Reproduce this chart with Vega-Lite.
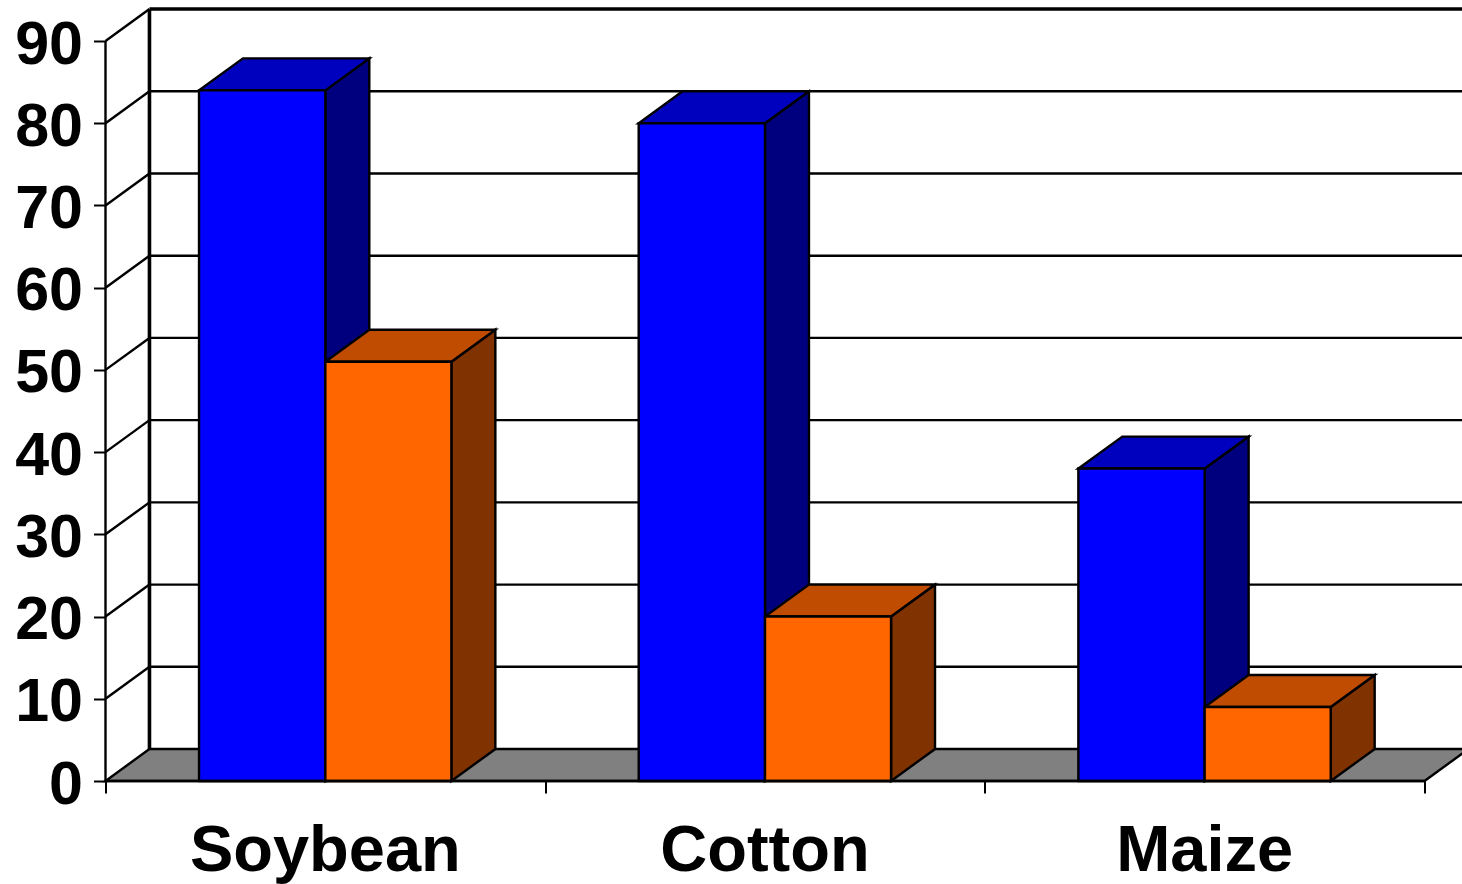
{
"$schema":"https://vega.github.io/schema/vega-lite/v6.json",
"width":1356.5,"height":781,
"autosize":{"type":"none"},
"padding":{"left":105.5,"top":0,"right":0,"bottom":103},
"background":"white",
"config":{"view":{"stroke":null},"font":"Liberation Sans"},
"encoding":{
"x":{"field":"x","type":"quantitative","title":null,"scale":{"domain":[0,3.0853],"nice":false,"zero":false},
"axis":{"values":[0,1,2,3],"labels":false,"domain":false,"grid":false,"tickSize":12,"tickWidth":2,"tickColor":"#000000","title":null}},
"y":{"field":"y","type":"quantitative","title":null,"scale":{"domain":[0,94.99],"nice":false,"zero":false},
"axis":{"values":[0,10,20,30,40,50,60,70,80,90],"domain":false,"grid":false,"tickSize":12,"tickWidth":2,"tickColor":"#000000","labelFont":"Liberation Sans","labelFontWeight":"bold","labelFontSize":61,"labelColor":"#000000","labelPadding":11,"labelOffset":4,"labelFlush":false,"labelOverlap":false,"title":null}}
},
"layer":[
{"data":{"values":[
{"x":0.1,"x2":3.1,"y":13.89,"y2":13.89},{"x":0.1,"x2":3.1,"y":23.89,"y2":23.89},{"x":0.1,"x2":3.1,"y":33.89,"y2":33.89},{"x":0.1,"x2":3.1,"y":43.89,"y2":43.89},{"x":0.1,"x2":3.1,"y":53.89,"y2":53.89},{"x":0.1,"x2":3.1,"y":63.89,"y2":63.89},{"x":0.1,"x2":3.1,"y":73.89,"y2":73.89},{"x":0.1,"x2":3.1,"y":83.89,"y2":83.89},
{"x":0,"x2":0.1,"y":10,"y2":13.89},{"x":0,"x2":0.1,"y":20,"y2":23.89},{"x":0,"x2":0.1,"y":30,"y2":33.89},{"x":0,"x2":0.1,"y":40,"y2":43.89},{"x":0,"x2":0.1,"y":50,"y2":53.89},{"x":0,"x2":0.1,"y":60,"y2":63.89},{"x":0,"x2":0.1,"y":70,"y2":73.89},{"x":0,"x2":0.1,"y":80,"y2":83.89},{"x":0,"x2":0.1,"y":90,"y2":93.89},
{"x":0,"x2":0,"y":0,"y2":90}
]},
"mark":{"type":"rule","stroke":"#000000","strokeWidth":2.4,"clip":false},
"encoding":{"x2":{"field":"x2"},"y2":{"field":"y2"}}},
{"data":{"values":[
{"x":0.1,"x2":3.1,"y":93.89,"y2":93.89},{"x":0.1,"x2":0.1,"y":3.89,"y2":93.89}
]},
"mark":{"type":"rule","stroke":"#000000","strokeWidth":3.6,"clip":true},
"encoding":{"x2":{"field":"x2"},"y2":{"field":"y2"}}},
{"data":{"values":[
{"face":"floor","shade":"floor","x":0,"y":0,"y2":0},
{"face":"floor","shade":"floor","x":0.1,"y":0,"y2":3.89},
{"face":"floor","shade":"floor","x":3,"y":0,"y2":3.89},
{"face":"floor","shade":"floor","x":3.1,"y":3.89,"y2":3.89},
{"face":"a1","shade":"blueSide","x":0.5,"y":0,"y2":84},{"face":"a1","shade":"blueSide","x":0.6,"y":3.89,"y2":87.89},
{"face":"a2","shade":"blueTop","x":0.2127,"y":84,"y2":84},{"face":"a2","shade":"blueTop","x":0.3127,"y":84,"y2":87.89},{"face":"a2","shade":"blueTop","x":0.5,"y":84,"y2":87.89},{"face":"a2","shade":"blueTop","x":0.6,"y":87.89,"y2":87.89},
{"face":"a3","shade":"orangeSide","x":0.7867,"y":0,"y2":51},{"face":"a3","shade":"orangeSide","x":0.8867,"y":3.89,"y2":54.89},
{"face":"a4","shade":"orangeTop","x":0.5,"y":51,"y2":51},{"face":"a4","shade":"orangeTop","x":0.6,"y":51,"y2":54.89},{"face":"a4","shade":"orangeTop","x":0.7867,"y":51,"y2":54.89},{"face":"a4","shade":"orangeTop","x":0.8867,"y":54.89,"y2":54.89},
{"face":"b1","shade":"blueSide","x":1.5,"y":0,"y2":80},{"face":"b1","shade":"blueSide","x":1.6,"y":3.89,"y2":83.89},
{"face":"b2","shade":"blueTop","x":1.2127,"y":80,"y2":80},{"face":"b2","shade":"blueTop","x":1.3127,"y":80,"y2":83.89},{"face":"b2","shade":"blueTop","x":1.5,"y":80,"y2":83.89},{"face":"b2","shade":"blueTop","x":1.6,"y":83.89,"y2":83.89},
{"face":"b3","shade":"orangeSide","x":1.7867,"y":0,"y2":20},{"face":"b3","shade":"orangeSide","x":1.8867,"y":3.89,"y2":23.89},
{"face":"b4","shade":"orangeTop","x":1.5,"y":20,"y2":20},{"face":"b4","shade":"orangeTop","x":1.6,"y":20,"y2":23.89},{"face":"b4","shade":"orangeTop","x":1.7867,"y":20,"y2":23.89},{"face":"b4","shade":"orangeTop","x":1.8867,"y":23.89,"y2":23.89},
{"face":"c1","shade":"blueSide","x":2.5,"y":0,"y2":38},{"face":"c1","shade":"blueSide","x":2.6,"y":3.89,"y2":41.89},
{"face":"c2","shade":"blueTop","x":2.2127,"y":38,"y2":38},{"face":"c2","shade":"blueTop","x":2.3127,"y":38,"y2":41.89},{"face":"c2","shade":"blueTop","x":2.5,"y":38,"y2":41.89},{"face":"c2","shade":"blueTop","x":2.6,"y":41.89,"y2":41.89},
{"face":"c3","shade":"orangeSide","x":2.7867,"y":0,"y2":9},{"face":"c3","shade":"orangeSide","x":2.8867,"y":3.89,"y2":12.89},
{"face":"c4","shade":"orangeTop","x":2.5,"y":9,"y2":9},{"face":"c4","shade":"orangeTop","x":2.6,"y":9,"y2":12.89},{"face":"c4","shade":"orangeTop","x":2.7867,"y":9,"y2":12.89},{"face":"c4","shade":"orangeTop","x":2.8867,"y":12.89,"y2":12.89}
]},
"mark":{"type":"area","stroke":"#000000","strokeWidth":2.4,"strokeJoin":"miter","opacity":1,"clip":false},
"encoding":{"y2":{"field":"y2"},"detail":{"field":"face"},
"color":{"field":"shade","type":"nominal","legend":null,"scale":{"domain":["floor","blueSide","blueTop","orangeSide","orangeTop","blueFront","orangeFront"],"range":["#808080","#00007f","#0000bf","#803300","#bf4c00","#0000ff","#ff6600"]}}}},
{"data":{"values":[
{"category":"Soybean","shade":"blueFront","x":0.2127,"x2":0.5,"y":84},
{"category":"Soybean","shade":"orangeFront","x":0.5,"x2":0.7867,"y":51},
{"category":"Cotton","shade":"blueFront","x":1.2127,"x2":1.5,"y":80},
{"category":"Cotton","shade":"orangeFront","x":1.5,"x2":1.7867,"y":20},
{"category":"Maize","shade":"blueFront","x":2.2127,"x2":2.5,"y":38},
{"category":"Maize","shade":"orangeFront","x":2.5,"x2":2.7867,"y":9}
]},
"mark":{"type":"rect","stroke":"#000000","strokeWidth":2.4},
"encoding":{"x2":{"field":"x2"},"y2":{"datum":0},
"color":{"field":"shade","type":"nominal","legend":null,"scale":{"domain":["floor","blueSide","blueTop","orangeSide","orangeTop","blueFront","orangeFront"],"range":["#808080","#00007f","#0000bf","#803300","#bf4c00","#0000ff","#ff6600"]}}}},
{"data":{"values":[{"x":0,"x2":3,"y":0,"y2":0}]},
"mark":{"type":"rule","stroke":"#000000","strokeWidth":2.6},
"encoding":{"x2":{"field":"x2"},"y2":{"field":"y2"}}},
{"data":{"values":[{"category":"Soybean","x":0.5,"y":0},{"category":"Cotton","x":1.5,"y":0},{"category":"Maize","x":2.5,"y":0}]},
"mark":{"type":"text","font":"Liberation Sans","fontWeight":"bold","fontSize":65,"color":"#000000","align":"center","baseline":"alphabetic","dy":90},
"encoding":{"text":{"field":"category"}}}
]
}
